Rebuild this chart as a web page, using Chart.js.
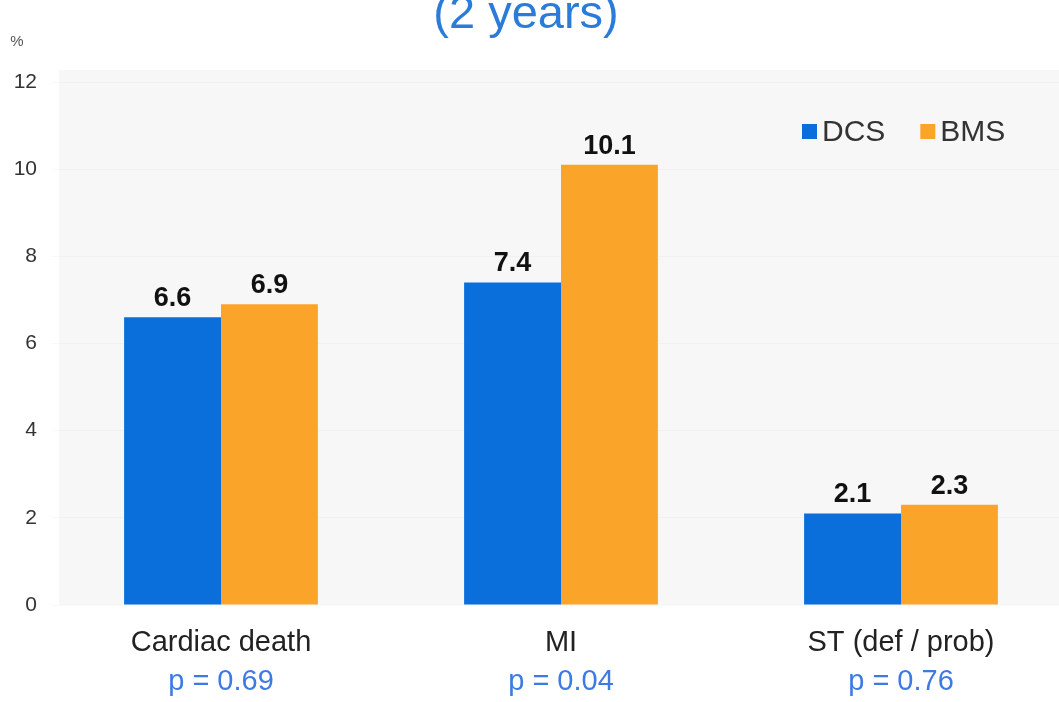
<!DOCTYPE html>
<html>
<head>
<meta charset="utf-8">
<script src="https://cdn.jsdelivr.net/npm/chart.js@4/dist/chart.umd.min.js"></script>
<style>
  html, body { margin: 0; padding: 0; background: #fff; overflow: hidden; }
  #wrap { width: 1074px; height: 702px; }
</style>
</head>
<body>
<div id="wrap"><canvas id="bar-chart" width="1074" height="702"></canvas></div>
<script>
var categories = ['Cardiac death', 'MI', 'ST (def / prob)'];
var pValues = ['p = 0.69', 'p = 0.04', 'p = 0.76'];
var dcsValues = [6.6, 7.4, 2.1];
var bmsValues = [6.9, 10.1, 2.3];
var seriesNames = ['DCS', 'BMS'];
var titleText = '(2 years)';
var unitText = '%';

var FONT = "'Liberation Sans', Arial, sans-serif";

// plot background, title, % label, value labels, legend
var decor = {
  id: 'decor',
  beforeDraw: function(chart) {
    var ctx = chart.ctx, a = chart.chartArea;
    ctx.save();
    ctx.fillStyle = '#f7f7f7';
    ctx.fillRect(a.left + 8, a.top - 12, a.right - a.left, a.bottom - a.top + 12);
    ctx.restore();
  },
  afterDatasetsDraw: function(chart) {
    var ctx = chart.ctx;
    ctx.save();
    // value labels
    ctx.font = 'bold 27px ' + FONT;
    ctx.fillStyle = '#111';
    ctx.textAlign = 'center';
    ctx.textBaseline = 'bottom';
    chart.data.datasets.forEach(function(ds, i) {
      chart.getDatasetMeta(i).data.forEach(function(bar, j) {
        ctx.fillText(ds.data[j].toFixed(1), bar.x, bar.y - 5);
      });
    });
    // title
    ctx.font = '47px ' + FONT;
    ctx.fillStyle = '#2b7bd9';
    ctx.textBaseline = 'alphabetic';
    ctx.fillText(titleText, 526, 28);
    // unit
    ctx.font = '15px ' + FONT;
    ctx.fillStyle = '#555';
    ctx.fillText(unitText, 17, 46);
    // legend
    var x = 802, y = 132;
    ctx.font = '30px ' + FONT;
    ctx.textAlign = 'left';
    ctx.textBaseline = 'middle';
    chart.data.datasets.forEach(function(ds) {
      ctx.fillStyle = ds.backgroundColor;
      ctx.fillRect(x, y - 8, 15, 15);
      ctx.fillStyle = '#333';
      ctx.fillText(ds.label, x + 20, y + 1);
      x += 20 + ctx.measureText(ds.label).width + 35;
    });
    ctx.restore();
  }
};

new Chart(document.getElementById('bar-chart'), {
  type: 'bar',
  data: {
    labels: categories,
    datasets: [{
      label: seriesNames[0],
      data: dcsValues,
      backgroundColor: '#0a6fdb'
    }, {
      label: seriesNames[1],
      data: bmsValues,
      backgroundColor: '#fba42a'
    }]
  },
  options: {
    responsive: false,
    animation: false,
    devicePixelRatio: 1,
    layout: { padding: { top: 82, left: 0, right: 3, bottom: 0 } },
    datasets: { bar: { categoryPercentage: 0.57, barPercentage: 1.0 } },
    plugins: {
      legend: { display: false },
      title: { display: false },
      tooltip: { enabled: false }
    },
    scales: {
      y: {
        min: 0,
        max: 12,
        ticks: { stepSize: 2, padding: 14, color: '#333', font: { family: FONT, size: 21 } },
        grid: { color: 'rgba(0,0,0,0.025)', drawTicks: false },
        border: { display: false },
        afterFit: function(scale) { scale.width = 51; }
      },
      x: {
        grid: { display: false, drawTicks: false },
        border: { display: false },
        ticks: { padding: 21, color: '#222', font: { family: FONT, size: 29 } },
        afterFit: function(scale) { scale.height = 56; }
      },
      x2: {
        type: 'category',
        position: 'bottom',
        labels: pValues,
        offset: true,
        grid: { display: false, drawTicks: false },
        border: { display: false },
        ticks: { padding: 4, color: '#3d7ae4', font: { family: FONT, size: 29 } },
        afterFit: function(scale) { scale.height = 41; }
      }
    }
  },
  plugins: [decor]
});
</script>
</body>
</html>
